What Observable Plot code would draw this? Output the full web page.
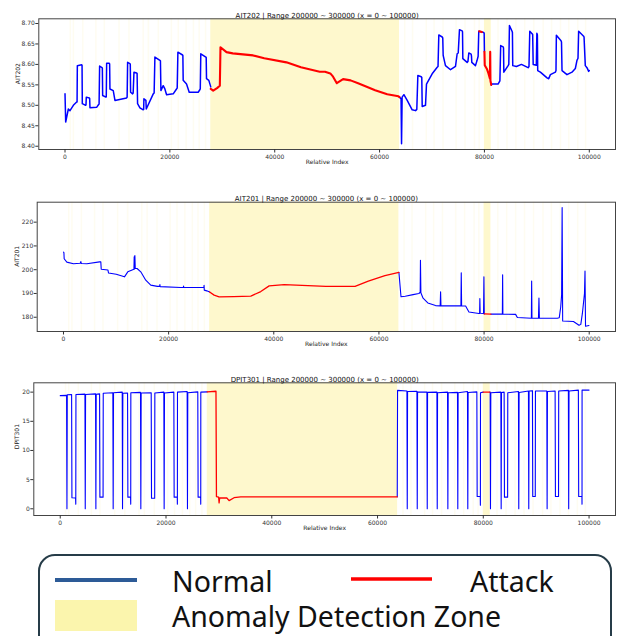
<!DOCTYPE html>
<html><head><meta charset="utf-8">
<script src="https://cdn.jsdelivr.net/npm/d3@7"></script>
<script src="https://cdn.jsdelivr.net/npm/@observablehq/plot@0.6"></script>
<style>
body{margin:0;background:#fff;}
#page{position:relative;width:617px;height:636px;overflow:hidden;background:#fff;}
.pnl{position:absolute;left:0;}
</style></head><body><div id="page"></div>
<script>
// ---------- shared ----------
const xTicks = [0, 20000, 40000, 60000, 80000, 100000];
const zones = [[27800, 63800], [80000, 81300]];
const stripes = [1000, 1600, 3400, 5900, 7500, 10300, 12200, 14900, 15900, 17800, 20300, 21600, 23100, 24500, 25600, 26800,
  64800, 66300, 68900, 70400, 72100, 74600, 76300, 78100, 79000, 82600, 84300, 86000, 87700, 89400, 91200, 92800, 94500, 96100, 97800, 99300];

// ---------- AIT202 ----------
const ait202Ticks = [8.40, 8.45, 8.50, 8.55, 8.60, 8.65, 8.70];
const ait202NormalA = [[0,8.528],[130,8.459],[635,8.491],[950,8.487],[1590,8.500],[2220,8.508],[2300,8.508],[2350,8.597],[3175,8.599],[3250,8.598],[3300,8.504],[3940,8.500],[4000,8.501],[4060,8.520],[4640,8.518],[4700,8.517],[4760,8.494],[6030,8.495],[6410,8.502],[6500,8.503],[6600,8.596],[7050,8.592],[7120,8.591],[7180,8.524],[7810,8.520],[7870,8.521],[7940,8.603],[8450,8.603],[8510,8.601],[8570,8.540],[9200,8.536],[9525,8.512],[11750,8.518],[11850,8.520],[11940,8.605],[12380,8.602],[12450,8.600],[12510,8.532],[12890,8.528],[13000,8.530],[13150,8.581],[13650,8.579],[13750,8.578],[13840,8.504],[14290,8.494],[14920,8.489],[15000,8.490],[15050,8.516],[15430,8.512],[15500,8.491],[16830,8.528],[17000,8.530],[17145,8.618],[18100,8.610],[18200,8.609],[18290,8.536],[18730,8.548],[19050,8.540],[19370,8.526],[20640,8.528],[21270,8.540],[21400,8.542],[21530,8.630],[22420,8.623],[22480,8.622],[22540,8.561],[23180,8.552],[23690,8.532],[25400,8.532],[25720,8.538],[25800,8.540],[25900,8.626],[26860,8.618],[26930,8.617],[26990,8.565],[27430,8.561],[27800,8.545]];
const ait202AttackA = [[27800,8.540],[28260,8.536],[29000,8.542],[29530,8.548],[29600,8.600],[29650,8.642],[30800,8.630],[32000,8.627],[35880,8.622],[38000,8.615],[42230,8.605],[45000,8.593],[48580,8.582],[49600,8.582],[50600,8.578],[51130,8.570],[51840,8.554],[53040,8.564],[54470,8.561],[55900,8.554],[57650,8.545],[59150,8.537],[61460,8.527],[63600,8.522],[63800,8.520]];
const ait202NormalB = [[63800,8.520],[64100,8.516],[64190,8.406],[64300,8.520],[64640,8.526],[65270,8.512],[66220,8.489],[66860,8.487],[67100,8.490],[67300,8.573],[67940,8.570],[68050,8.568],[68130,8.497],[68760,8.500],[68950,8.552],[70030,8.577],[70990,8.593],[71150,8.595],[71300,8.672],[71940,8.667],[72050,8.665],[72130,8.622],[72570,8.597],[73530,8.587],[74480,8.595],[74800,8.626],[75000,8.628],[75240,8.685],[75750,8.682],[75820,8.680],[75880,8.614],[76700,8.605],[76850,8.607],[77020,8.628],[77460,8.625],[77530,8.620],[77590,8.605],[78290,8.597],[78600,8.610],[78800,8.620],[78920,8.681],[79880,8.678],[79950,8.676],[80000,8.631]];
const ait202AttackTip = [[79000,8.681],[79500,8.679]];
const ait202AttackB = [[80000,8.631],[80060,8.598],[80500,8.588],[80770,8.578],[81050,8.565],[81100,8.631],[81150,8.560],[81300,8.550]];
const ait202NormalC = [[81300,8.550],[81460,8.552],[82600,8.552],[82950,8.560],[83100,8.646],[83570,8.643],[83640,8.640],[83700,8.581],[84520,8.597],[84650,8.600],[84770,8.695],[85270,8.681],[85340,8.678],[85400,8.597],[86100,8.595],[87060,8.600],[88330,8.592],[88500,8.595],[88650,8.681],[89090,8.675],[89200,8.673],[89300,8.600],[89900,8.598],[90000,8.676],[90100,8.672],[90160,8.585],[90670,8.581],[91940,8.567],[92260,8.565],[92580,8.575],[93530,8.581],[93650,8.585],[93720,8.671],[94610,8.658],[94700,8.655],[94800,8.585],[95750,8.575],[96700,8.581],[97340,8.590],[97650,8.610],[97850,8.615],[97970,8.681],[98920,8.669],[99000,8.667],[99240,8.597],[99560,8.592],[99880,8.583],[100000,8.585]];

// ---------- AIT201 ----------
const ait201Ticks = [180, 190, 200, 210, 220];
const ait201NormalA = [[0,207.4],[80,207.2],[130,204.6],[635,203.2],[1900,202.5],[3175,202.7],[3300,203.4],[3400,202.6],[4450,202.5],[6860,203.3],[7100,203.3],[7180,200.2],[8450,199.9],[8570,198.6],[10030,198.1],[11600,197.0],[12230,199.1],[13400,200.2],[13450,205.4],[13520,200.3],[13580,206.0],[13650,200.5],[14000,200.5],[14700,199.1],[15650,195.6],[16600,193.5],[17860,193.0],[18300,193.0],[18340,193.8],[18380,192.9],[22300,192.5],[22800,192.5],[22840,193.1],[22880,192.5],[26430,192.5],[26700,192.5],[26740,193.4],[26780,191.4],[27250,191.1],[27800,190.6]];
const ait201AttackA = [[27800,190.6],[28650,189.3],[29600,188.6],[32385,188.7],[35630,188.9],[37530,190.8],[39120,193.2],[41980,193.7],[49900,193.0],[55460,193.0],[57980,195.2],[61140,197.5],[63800,198.9]];
const ait201NormalB = [[63800,198.9],[64200,188.6],[65000,188.8],[66500,189.5],[67600,190.0],[67850,190.5],[67900,204.0],[67980,190.3],[68400,188.0],[69300,186.0],[70770,184.9],[71650,184.8],[71730,190.7],[71800,184.8],[75600,184.8],[75660,198.7],[75730,184.8],[76490,184.7],[77120,182.2],[79020,181.6],[79150,181.6],[79200,187.9],[79260,181.7],[79900,181.6],[79970,197.0],[80040,181.4]];
const ait201AttackB = [[80040,181.4],[81300,181.3]];
const ait201NormalC = [[81300,181.3],[83480,181.3],[83530,197.9],[83580,181.3],[86000,181.2],[86330,179.9],[89000,179.6],[89050,195.2],[89110,179.6],[90350,179.6],[90440,188.1],[90520,179.6],[93940,179.6],[94300,179.8],[94580,184.3],[94750,189.3],[94850,226.2],[94950,178.4],[97000,178.2],[98060,176.6],[98400,177.0],[98700,181.6],[99100,190.0],[99200,199.4],[99300,176.2],[99960,176.5]];

// ---------- DPIT301 ----------
const dpitTicks = [0, 5, 10, 15, 20];
const dpitNormalA = [[0,19.40],[1200,19.45],[1270,0],[1330,19.55],[2150,19.6],[2210,1.9],[2900,1.85],[2940,0.8],[2970,19.6],[4670,19.65],[4730,0],[4790,19.6],[6680,19.7],[6740,0],[6800,19.65],[7440,19.7],[7500,2.0],[8100,2.0],[8130,19.8],[9950,19.9],[10010,0],[10070,19.9],[11720,20.0],[11780,0],[11840,19.8],[12730,19.85],[12790,2.0],[13300,2.0],[13330,0.8],[13350,19.9],[15180,19.95],[15240,0],[15300,19.85],[17200,19.9],[17260,1.8],[17860,1.8],[17890,19.85],[19590,20.0],[19650,0],[19710,19.85],[21480,20.0],[21540,2.0],[22130,2.0],[22150,0.8],[22170,20.0],[24000,20.1],[24060,0],[24120,19.9],[26010,20.05],[26070,2.0],[26550,2.0],[26570,0.8],[26580,20.0],[27800,20.05]];
const dpitAttackA = [[27800,20.05],[29450,20.15],[29540,2.1],[29950,2.0],[30040,1.0],[30150,1.85],[31500,1.85],[31930,1.4],[32870,1.9],[34140,2.05],[63730,2.05]];
const dpitNormalB = [[63730,2.05],[63790,20.3],[65560,20.2],[65620,0],[65680,20.1],[67450,20.15],[67510,0],[67570,20.0],[69340,20.0],[69400,0],[69460,19.95],[71230,20.0],[71290,0],[71350,19.9],[73240,20.0],[73300,0],[73360,19.9],[75120,19.95],[75180,0],[75240,19.9],[77010,20.1],[77070,0],[77130,19.95],[78780,20.05],[78840,2.1],[79430,2.1],[79450,0.6],[79470,19.9],[79970,20.0]];
const dpitAttackB = [[79970,20.0],[81230,20.0]];
const dpitNormalC = [[81230,20.0],[81300,20.0],[81360,0],[81420,19.9],[83320,20.0],[83380,0],[83440,19.95],[83940,20.0],[84000,2.0],[84600,2.0],[84630,19.9],[86650,20.1],[86710,0],[86770,19.95],[88540,20.2],[88600,0],[88660,20.2],[89290,20.25],[89350,2.1],[89830,2.1],[89860,20.2],[92010,20.2],[92070,0],[92130,20.1],[93580,20.2],[93640,2.1],[94230,2.1],[94260,20.2],[96090,20.3],[96150,0],[96210,20.2],[97980,20.35],[98040,2.1],[98650,2.1],[98670,0.8],[98680,20.35],[100000,20.35]];

// ---------- drawing ----------
const page = document.getElementById("page");
const FONT = "DejaVu Sans";

function panel(cfg) {
  const lineOpts = (stroke, sw) => ({x: d => d[0], y: d => d[1], stroke, strokeWidth: sw});
  const marks = [
    Plot.rect(zones, {x1: d => d[0], x2: d => d[1], fill: "#fef8cd"}),
    Plot.ruleX(stripes, {stroke: "#fcf3bd", strokeOpacity: 0.22, strokeWidth: 1.5}),
    ...cfg.normal.map(s => Plot.line(s, lineOpts("#0000ff", cfg.sw))),
    ...cfg.attack.map(s => Plot.line(s, lineOpts("#ff0000", cfg.swA))),
    Plot.frame({stroke: "#444", strokeWidth: 1}),
    Plot.axisX({ticks: xTicks, tickFormat: d3.format("d"), tickSize: 3.5, tickPadding: 1.5, fontSize: 6, label: null}),
    Plot.axisY({ticks: cfg.yTicks, tickFormat: cfg.fmt, tickSize: 3, tickPadding: 1, fontSize: 6, label: null}),
    Plot.text([cfg.title], {frameAnchor: "top", dy: -6, fontSize: 7, fill: "#111"}),
    Plot.text(["Relative Index"], {frameAnchor: "bottom", dy: 14, fontSize: 6, fill: "#222"}),
    Plot.text([cfg.ylabel], {frameAnchor: "left", dx: cfg.ylDx, rotate: -90, fontSize: 6, fill: "#222"})
  ];
  const svg = Plot.plot({
    width: 617, height: cfg.height,
    marginLeft: cfg.mL, marginRight: 2, marginTop: cfg.mT, marginBottom: cfg.mB,
    x: {domain: [-5000, 105000]},
    y: {domain: cfg.yDomain},
    style: {fontFamily: FONT, color: "#333", background: "transparent", overflow: "visible"},
    marks
  });
  svg.classList.add("pnl");
  svg.style.top = cfg.top + "px";
  page.appendChild(svg);
}

panel({top: 0, height: 175, mL: 38.3, mT: 18.3, mB: 26, yDomain: [8.392, 8.7115], yTicks: ait202Ticks, fmt: d3.format(".2f"),
  title: "AIT202 | Range 200000 ~ 300000 (x = 0 ~ 100000)", ylabel: "AIT202", ylDx: -21, sw: 1.5, swA: 2.1,
  normal: [ait202NormalA, ait202NormalB, ait202NormalC], attack: [ait202AttackA, ait202AttackTip, ait202AttackB]});

panel({top: 180, height: 175, mL: 36.7, mT: 21.7, mB: 24, yDomain: [174.0, 228.4], yTicks: ait201Ticks, fmt: d3.format("d"),
  title: "AIT201 | Range 200000 ~ 300000 (x = 0 ~ 100000)", ylabel: "AIT201", ylDx: -20, sw: 1.1, swA: 1.3,
  normal: [ait201NormalA, ait201NormalB, ait201NormalC], attack: [ait201AttackA, ait201AttackB]});

panel({top: 360, height: 180, mL: 33.3, mT: 22.3, mB: 25, yDomain: [-1.15, 21.6], yTicks: dpitTicks, fmt: d3.format("d"),
  title: "DPIT301 | Range 200000 ~ 300000 (x = 0 ~ 100000)", ylabel: "DPIT301", ylDx: -16.6, sw: 1.1, swA: 1.3,
  normal: [dpitNormalA, dpitNormalB, dpitNormalC], attack: [dpitAttackA, dpitAttackB]});

// ---------- legend ----------
const legendLabels = ["Normal", "Attack", "Anomaly Detection Zone"];
const leg = d3.create("svg").attr("width", 617).attr("height", 96)
  .style("position", "absolute").style("left", "0px").style("top", "540px");
leg.append("rect").attr("x", 39).attr("y", 15).attr("width", 572).attr("height", 110).attr("rx", 16)
  .attr("fill", "#fff").attr("stroke", "#263c48").attr("stroke-width", 2);
leg.append("line").attr("x1", 55).attr("x2", 137).attr("y1", 40).attr("y2", 40).attr("stroke", "#2d5b97").attr("stroke-width", 4);
leg.append("line").attr("x1", 351).attr("x2", 432).attr("y1", 39).attr("y2", 39).attr("stroke", "#ff0000").attr("stroke-width", 3.5);
leg.append("rect").attr("x", 55).attr("y", 60).attr("width", 82).attr("height", 31).attr("fill", "#fbf5ad");
const lt = (t, x, y) => leg.append("text").attr("x", x).attr("y", y).text(t)
  .attr("font-family", "Noto Sans").attr("font-size", 28.5).attr("fill", "#111");
lt(legendLabels[0], 172, 51.5);
lt(legendLabels[1], 470, 51.5);
lt(legendLabels[2], 172, 87);
page.appendChild(leg.node());
</script></body></html>
